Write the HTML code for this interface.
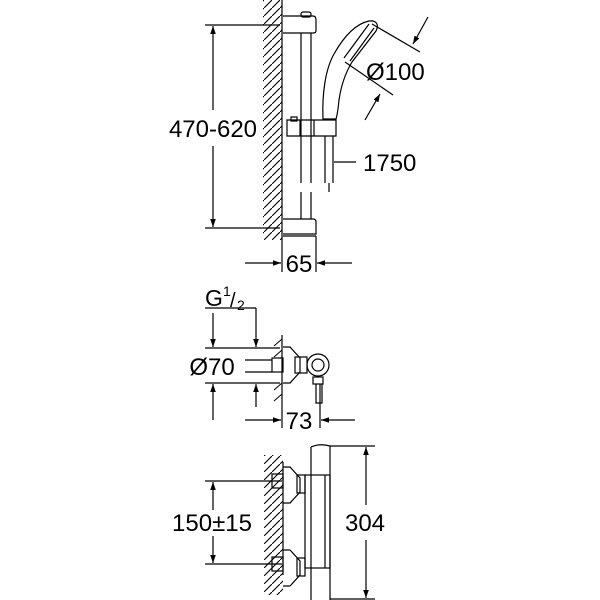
<!DOCTYPE html>
<html><head><style>body{margin:0;background:#fff}svg{display:block}text{font-family:"Liberation Sans",sans-serif;fill:#000}</style></head>
<body>
<svg width="600" height="600" viewBox="0 0 600 600" xmlns="http://www.w3.org/2000/svg" stroke="#000" fill="none" stroke-width="1.2">
<defs>
<marker id="a" viewBox="0 0 10 10" refX="10" refY="5" markerWidth="8" markerHeight="12" orient="auto-start-reverse" markerUnits="userSpaceOnUse"><path d="M0,1.5 L10,5 L0,8.5 z" fill="#000" stroke="none"/></marker>
<pattern id="h" width="8" height="8" patternUnits="userSpaceOnUse"><path d="M-2,10 L10,-2" stroke="#000" stroke-width="1.1"/></pattern>
</defs>
<!-- TOP: rail -->
<rect x="263" y="0" width="19" height="240" fill="url(#h)" stroke="none"/>
<line x1="282" y1="0" x2="282" y2="272"/>
<line x1="205" y1="25" x2="280" y2="25"/>
<line x1="205" y1="228" x2="280" y2="228"/>
<line x1="213" y1="110" x2="213" y2="26" marker-end="url(#a)"/>
<line x1="213" y1="146" x2="213" y2="227" marker-end="url(#a)"/>
<text x="213" y="137" font-size="24" text-anchor="middle" stroke="none">470-620</text>
<path d="M283,16 H313 Q316,16 316,20 V31 Q316,33 313,33 H283"/>
<rect x="301" y="12" width="10" height="5" rx="2"/>
<line x1="301" y1="33" x2="301" y2="183"/><line x1="311" y1="33" x2="311" y2="183"/>
<line x1="301" y1="192" x2="301" y2="219"/><line x1="311" y1="192" x2="311" y2="219"/>
<path d="M283,219 H313 Q316,219 316,222 V234 H283"/>
<line x1="283" y1="236" x2="316" y2="236"/>
<path d="M287,120 H336 V136 H287 Z"/><line x1="300" y1="120" x2="300" y2="136"/><line x1="314" y1="120" x2="314" y2="136"/>
<rect x="291" y="117" width="6" height="4"/>
<line x1="325" y1="136" x2="325" y2="183"/><line x1="333" y1="136" x2="333" y2="183"/>
<line x1="329" y1="183" x2="329" y2="192"/>
<path d="M323,119 C322,95 325,70 334,54 C343,38 355,24 369,21 C377,20 379,25 376,31 L352,62 C346,72 341,86 339,100 C338,110 337,116 336,119 Z"/>
<path d="M369,24 L344,58 M374,28 L350,61"/>
<line x1="372" y1="24" x2="420" y2="52"/>
<line x1="345" y1="62" x2="393" y2="95"/>
<line x1="428" y1="17" x2="413" y2="44" marker-end="url(#a)"/>
<line x1="365" y1="120" x2="380" y2="94" marker-end="url(#a)"/>
<text x="366" y="80" font-size="24" stroke="none">Ø100</text>
<line x1="334" y1="162" x2="356" y2="162"/>
<text x="363" y="171" font-size="24" stroke="none">1750</text>
<line x1="316" y1="236" x2="316" y2="272"/>
<line x1="245" y1="263" x2="281" y2="263" marker-end="url(#a)"/>
<line x1="352" y1="263" x2="317" y2="263" marker-end="url(#a)"/>
<text x="299" y="272" font-size="24" text-anchor="middle" stroke="none">65</text>
<!-- MIDDLE -->
<text x="205" y="306" font-size="23" stroke="none">G</text>
<text x="223" y="296" font-size="14" stroke="none">1</text>
<text x="230" y="307" font-size="20" stroke="none">/</text>
<text x="237" y="310" font-size="14" stroke="none">2</text>
<line x1="205" y1="308" x2="256" y2="308"/>
<line x1="256" y1="308" x2="256" y2="347" marker-end="url(#a)"/>
<line x1="256" y1="407" x2="256" y2="384" marker-end="url(#a)"/>
<line x1="213" y1="313" x2="213" y2="347" marker-end="url(#a)"/>
<line x1="213" y1="420" x2="213" y2="384" marker-end="url(#a)"/>
<line x1="205" y1="348" x2="280" y2="348"/>
<line x1="205" y1="383" x2="280" y2="383"/>
<line x1="245" y1="360" x2="272" y2="360"/><line x1="245" y1="372" x2="272" y2="372"/>
<text x="212" y="375" font-size="24" text-anchor="middle" stroke="none">Ø70</text>
<line x1="282" y1="335" x2="282" y2="428"/>
<path d="M274,346 L282,339 M274,357 L282,350 M274,390 L282,383 M274,401 L282,394" stroke-width="1"/>
<rect x="272" y="358" width="11" height="14"/>
<path d="M283,347 L290,347 L300,358 L300,372 L290,383 L283,383"/>
<rect x="295" y="357" width="12" height="16"/>
<circle cx="318" cy="365" r="11"/><circle cx="318" cy="365" r="6"/>
<rect x="313" y="377" width="10" height="7"/>
<path d="M316,384 V403 H322 V384"/>
<line x1="320" y1="384" x2="320" y2="428"/>
<line x1="245" y1="420" x2="281" y2="420" marker-end="url(#a)"/>
<line x1="355" y1="420" x2="321" y2="420" marker-end="url(#a)"/>
<text x="299" y="429" font-size="24" text-anchor="middle" stroke="none">73</text>
<!-- BOTTOM -->
<rect x="264" y="455" width="19" height="140" fill="url(#h)" stroke="none"/>
<line x1="283" y1="462" x2="283" y2="575"/>
<line x1="205" y1="481" x2="282" y2="481"/>
<line x1="205" y1="564" x2="282" y2="564"/>
<line x1="213" y1="510" x2="213" y2="482" marker-end="url(#a)"/>
<line x1="213" y1="536" x2="213" y2="563" marker-end="url(#a)"/>
<text x="212" y="531" font-size="24" text-anchor="middle" stroke="none">150±15</text>
<rect x="272" y="474" width="11" height="14"/><rect x="272" y="557" width="11" height="14"/>
<path d="M283,467 L290,467 L300,478 L300,492 L290,503 L283,503"/>
<path d="M283,550 L290,550 L300,561 L300,575 L290,586 L283,586"/>
<rect x="297" y="475" width="8" height="18"/><rect x="297" y="558" width="8" height="18"/>
<path d="M311,447 Q320,443 330,446 V600 M311,447 V600"/>
<rect x="305" y="475" width="25" height="93"/>
<line x1="325" y1="475" x2="325" y2="568"/>
<line x1="330" y1="446" x2="375" y2="446"/>
<line x1="330" y1="599" x2="375" y2="599"/>
<line x1="366" y1="505" x2="366" y2="447" marker-end="url(#a)"/>
<line x1="366" y1="540" x2="366" y2="598" marker-end="url(#a)"/>
<text x="365" y="531" font-size="24" text-anchor="middle" stroke="none">304</text>
</svg>
</body></html>
